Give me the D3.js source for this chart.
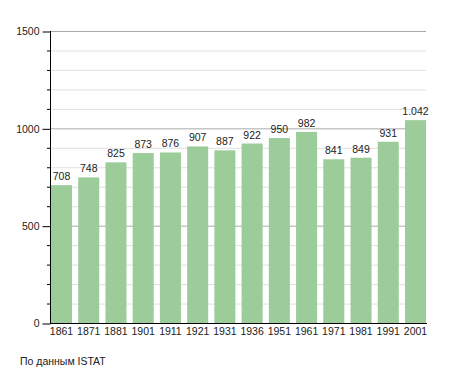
<!DOCTYPE html>
<html>
<head>
<meta charset="utf-8">
<script src="https://cdn.jsdelivr.net/npm/d3@7"></script>
<style>
  body { margin: 0; background: #fff; }
  svg { display: block; font-family: "Liberation Sans", Arial, sans-serif; }
</style>
</head>
<body>
<svg id="chart"></svg>
<script>
// данные
const years = ["1861", "1871", "1881", "1901", "1911", "1921", "1931", "1936", "1951", "1961", "1971", "1981", "1991", "2001"];
const population = [708, 748, 825, 873, 876, 907, 887, 922, 950, 982, 841, 849, 931, 1042];
const majorTicks = [0, 500, 1000, 1500];
const minorTicks = d3.range(0, 1501, 100);

const width = 455;
const height = 373;
const plotLeft = 50, plotRight = 426, plotTop = 31, plotBottom = 323;
const fontSize = "10.5px";

let svg = d3.select("#chart")
    .attr("width", width)
    .attr("height", height);

let scaleX = d3.scaleBand()
    .domain(years)
    .range([51, 426])
    .paddingInner(0.228)
    .paddingOuter(0);

let scaleY = d3.scaleLinear()
    .domain([0, 1500])
    .range([plotBottom, plotTop]);

// сетка
svg.append("g")
    .selectAll("line")
    .data(minorTicks.filter(d => d % 500 != 0))
    .enter()
    .append("line")
    .attr("x1", plotLeft)
    .attr("x2", plotRight)
    .attr("y1", d => scaleY(d) + 0.5)
    .attr("y2", d => scaleY(d) + 0.5)
    .style("stroke", "#e0e0e0");

svg.append("g")
    .selectAll("line")
    .data(majorTicks.filter(d => d > 0))
    .enter()
    .append("line")
    .attr("x1", plotLeft)
    .attr("x2", plotRight)
    .attr("y1", d => scaleY(d) + 0.5)
    .attr("y2", d => scaleY(d) + 0.5)
    .style("stroke", "#aaaaaa");

// столбцы
svg.selectAll(".bar")
    .data(population)
    .enter()
    .append("rect")
    .attr("class", "bar")
    .attr("x", (d, i) => scaleX(years[i]))
    .attr("y", d => scaleY(d))
    .attr("width", scaleX.bandwidth())
    .attr("height", d => plotBottom - scaleY(d))
    .style("fill", "#9bcc9a");

let fmt = d => d >= 1000 ? d3.format(",")(d).replace(",", ".") : String(d);

svg.selectAll(".val")
    .data(population)
    .enter()
    .append("text")
    .attr("class", "val")
    .attr("x", (d, i) => scaleX(years[i]) + scaleX.bandwidth() / 2)
    .attr("y", d => scaleY(d) - 5)
    .attr("text-anchor", "middle")
    .style("font-size", fontSize)
    .style("fill", "#222")
    .text(fmt);

// оси
let axisY = d3.axisLeft(scaleY).tickValues(majorTicks).tickSize(8).tickPadding(3).tickFormat(d => d);
let gy = svg.append("g")
    .attr("transform", `translate(${plotLeft + 0.5}, 0.5)`)
    .call(axisY);
gy.select(".domain").remove();
gy.selectAll("text").style("font-size", fontSize).style("fill", "#222").attr("dy", "0.35em").attr("y", -0.5);
gy.selectAll("line").style("stroke", "#000");

svg.append("g")
    .selectAll("line")
    .data(minorTicks.filter(d => d % 500 != 0))
    .enter()
    .append("line")
    .attr("x1", plotLeft - 3)
    .attr("x2", plotLeft)
    .attr("y1", d => scaleY(d) + 0.5)
    .attr("y2", d => scaleY(d) + 0.5)
    .style("stroke", "#000");

svg.append("line")
    .attr("x1", plotLeft + 0.5).attr("x2", plotLeft + 0.5)
    .attr("y1", plotTop).attr("y2", plotBottom + 1)
    .style("stroke", "#000");

svg.append("line")
    .attr("x1", plotLeft).attr("x2", plotRight + 1)
    .attr("y1", plotBottom + 0.5).attr("y2", plotBottom + 0.5)
    .style("stroke", "#000");

svg.selectAll(".xl")
    .data(years)
    .enter()
    .append("text")
    .attr("class", "xl")
    .attr("x", d => scaleX(d) + scaleX.bandwidth() / 2)
    .attr("y", plotBottom + 11.5)
    .attr("text-anchor", "middle")
    .style("font-size", fontSize)
    .style("fill", "#222")
    .text(d => d);

svg.append("text")
    .attr("x", 20)
    .attr("y", 365)
    .style("font-size", fontSize)
    .style("fill", "#222")
    .text("По данным ISTAT");
</script>
</body>
</html>
